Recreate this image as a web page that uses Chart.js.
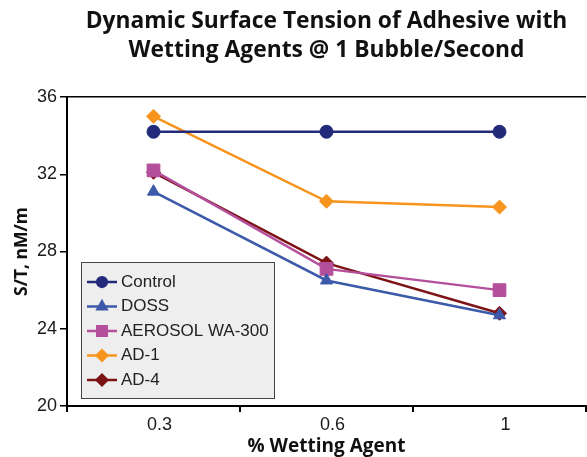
<!DOCTYPE html>
<html>
<head>
<meta charset="utf-8">
<script src="https://cdn.jsdelivr.net/npm/chart.js@4/dist/chart.umd.min.js"></script>
<style>
  html, body { margin: 0; padding: 0; background: #fff; }
  #wrap { width: 587px; height: 457px; }
</style>
</head>
<body>
<div id="wrap"><canvas id="tension"></canvas></div>
<script>
// Datos
const wettingAgent = ['0.3', '0.6', '1'];
const control = [34.2, 34.2, 34.2];
const doss = [31.1, 26.5, 24.7];
const aerosolWA300 = [32.2, 27.1, 26.0];
const ad1 = [35.0, 30.6, 30.3];
const ad4 = [32.1, 27.4, 24.8];
const yTicks = [20, 24, 28, 32, 36];

const fontFam = "'Liberation Sans', Arial, sans-serif";
const boldFam = "'Open Sans', 'Liberation Sans', sans-serif";

// Leyenda dibujada dentro del area del grafico, abajo a la izquierda
const boxLegend = {
    id: 'boxLegend',
    afterDatasetsDraw(chart) {
        const ctx = chart.ctx;
        const area = chart.chartArea;
        const x = area.left + 14;
        const w = 193;
        const h = 136;
        const y = area.bottom - 8 - h;

        ctx.save();
        ctx.fillStyle = '#eeeeee';
        ctx.strokeStyle = '#444';
        ctx.lineWidth = 1;
        ctx.fillRect(x, y, w, h);
        ctx.strokeRect(x + 0.5, y + 0.5, w, h);

        chart.data.datasets.forEach((ds, i) => {
            const rowY = y + 20 + i * 24.5;
            ctx.strokeStyle = ds.borderColor;
            ctx.lineWidth = 2.5;
            ctx.beginPath();
            ctx.moveTo(x + 6, rowY);
            ctx.lineTo(x + 36, rowY);
            ctx.stroke();
            ctx.fillStyle = ds.backgroundColor;
            Chart.helpers.drawPoint(ctx, {
                pointStyle: ds.pointStyle,
                radius: ds.pointRadius * 0.75,
                borderWidth: 1,
                rotation: 0
            }, x + 21, rowY);
            ctx.fillStyle = '#222';
            ctx.font = '17px ' + fontFam;
            ctx.textBaseline = 'middle';
            ctx.textAlign = 'left';
            ctx.fillText(ds.label, x + 40, rowY);
        });
        ctx.restore();
    }
};

const mkSet = (label, data, color, style, r) => ({
    label: label,
    data: data,
    borderColor: color,
    backgroundColor: color,
    borderWidth: 2.5,
    pointStyle: style,
    pointRadius: r,
    pointHoverRadius: r,
    pointBorderWidth: 1,
    tension: 0,
    fill: false,
    clip: false
});

new Chart(document.getElementById('tension'), {
    type: 'line',
    data: {
        labels: wettingAgent,
        datasets: [
            mkSet('Control', control, '#232a7a', 'circle', 6.5),
            mkSet('DOSS', doss, '#3c5aa9', 'triangle', 7),
            mkSet('AEROSOL WA-300', aerosolWA300, '#b44f9c', 'rect', 9),
            mkSet('AD-1', ad1, '#f7941e', 'rectRot', 7),
            mkSet('AD-4', ad4, '#7d1315', 'rectRot', 7)
        ]
    },
    plugins: [boxLegend],
    options: {
        responsive: true,
        maintainAspectRatio: false,
        animation: false,
        layout: { autoPadding: false, padding: { right: 1 } },
        plugins: {
            legend: { display: false },
            tooltip: { enabled: false },
            title: {
                display: true,
                fullSize: false,
                text: ['Dynamic Surface Tension of Adhesive with', 'Wetting Agents @ 1 Bubble/Second'],
                color: '#111',
                font: { family: boldFam, size: 22.8, weight: 'bold', lineHeight: 1.27 },
                padding: { top: 7.5, bottom: 31.6 }
            }
        },
        scales: {
            x: {
                type: 'category',
                offset: true,
                grid: {
                    offset: true,
                    drawOnChartArea: false,
                    tickColor: '#000',
                    tickLength: 6,
                    lineWidth: 2
                },
                border: { color: '#000', width: 2 },
                ticks: { color: '#1a1a1a', font: { family: fontFam, size: 18 }, padding: 2, labelOffset: 6 },
                title: {
                    display: true,
                    text: '% Wetting Agent',
                    color: '#111',
                    font: { family: boldFam, size: 19, weight: 'bold' },
                    padding: { top: 0, bottom: -1 }
                },
                afterFit: (scale) => {
                    scale.height = 51;
                    scale.paddingLeft = 0;
                    scale.paddingRight = 0;
                }
            },
            y: {
                min: 20,
                max: 36,
                afterBuildTicks: (scale) => { scale.ticks = yTicks.map(v => ({ value: v })); },
                grid: {
                    drawOnChartArea: true,
                    color: (c) => c.tick && c.tick.value === 36 ? '#000' : 'rgba(0,0,0,0)',
                    tickColor: '#000',
                    tickLength: 7,
                    lineWidth: 1.5
                },
                border: { color: '#000', width: 2 },
                ticks: { color: '#1a1a1a', font: { family: fontFam, size: 18 }, padding: 3 },
                title: {
                    display: true,
                    text: 'S/T, nM/m',
                    color: '#111',
                    font: { family: boldFam, size: 17.5, weight: 'bold' },
                    padding: { top: 12, bottom: 0 }
                },
                afterFit: (scale) => {
                    scale.width = 67;
                    scale.paddingTop = 0;
                    scale.paddingBottom = 0;
                }
            }
        }
    }
});
</script>
</body>
</html>
